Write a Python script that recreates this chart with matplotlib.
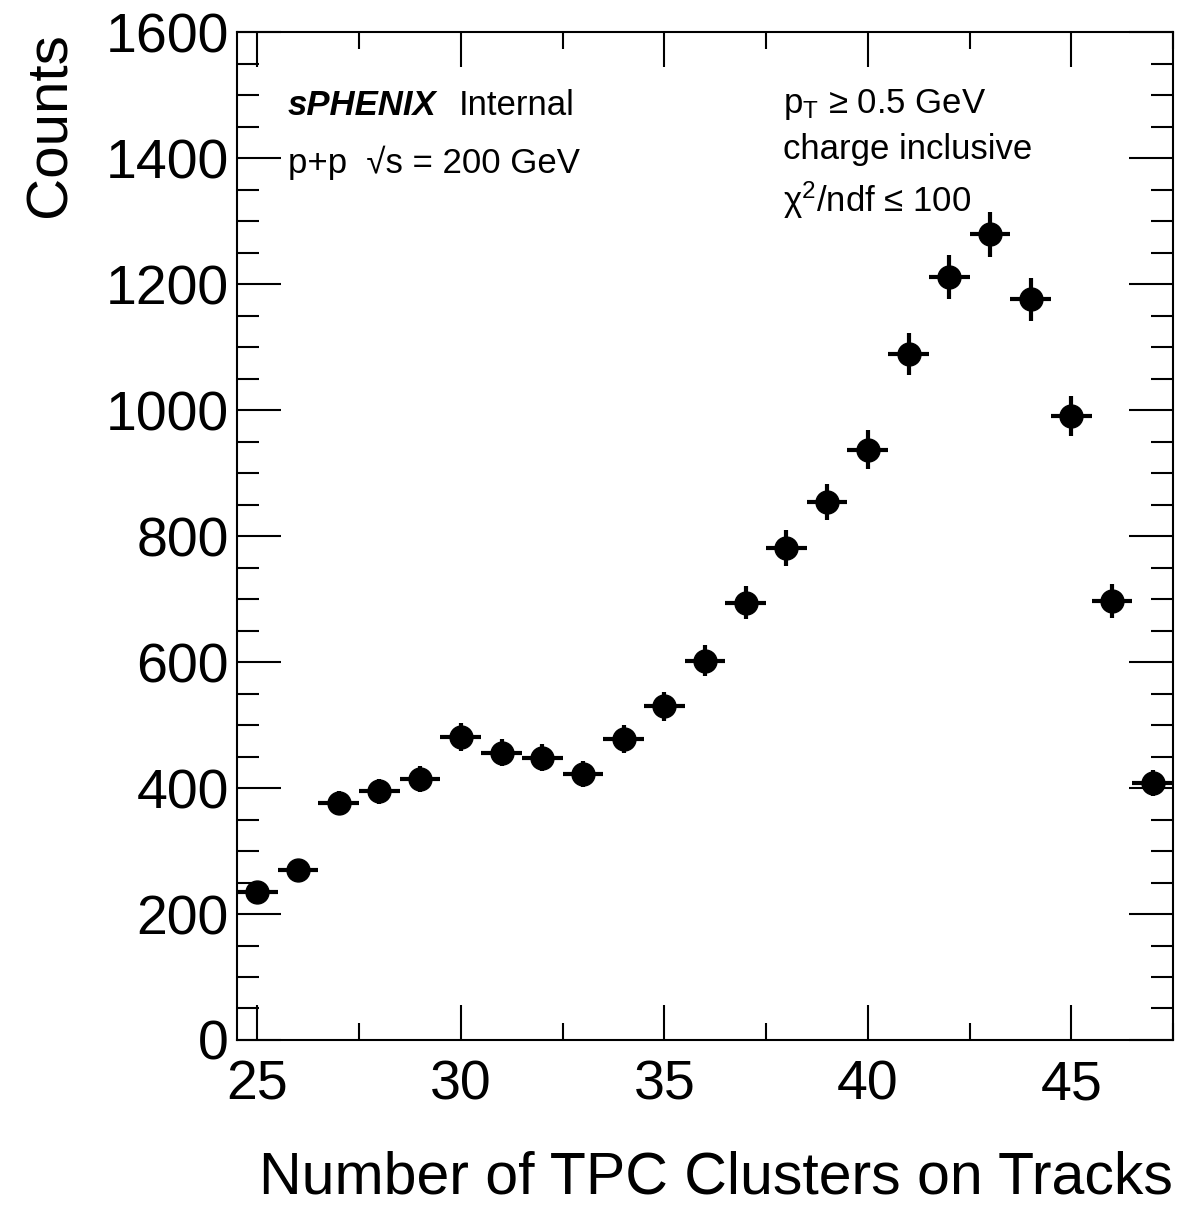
import matplotlib
matplotlib.use('Agg')
import matplotlib.pyplot as plt
from matplotlib.ticker import MultipleLocator

plt.rcParams['font.family'] = ['Liberation Sans', 'DejaVu Sans']
plt.rcParams['mathtext.fontset'] = 'custom'
plt.rcParams['mathtext.rm'] = 'Liberation Sans'
plt.rcParams['mathtext.it'] = 'Liberation Sans:italic'
plt.rcParams['mathtext.bf'] = 'Liberation Sans:bold'

# cluster count per track (bin centres)
nclusters = [25, 26, 27, 28, 29, 30, 31, 32, 33, 34, 35, 36,
             37, 38, 39, 40, 41, 42, 43, 44, 45, 46, 47]
counts = [235, 270, 376, 395, 414, 481, 456, 448, 422, 478, 530, 602,
          694, 781, 854, 937, 1089, 1211, 1279, 1176, 990, 697, 408]
errors = [15.3, 16.4, 19.4, 19.9, 20.3, 21.9, 21.4, 21.2, 20.5, 21.9, 23.0, 24.5,
          26.3, 27.9, 29.2, 30.6, 33.0, 34.8, 35.8, 34.3, 31.5, 26.4, 20.2]
binhalf = [0.5] * len(nclusters)

fig = plt.figure(figsize=(11.79, 12.10), dpi=100)
ax = fig.add_axes([0.201, 0.1405, 0.794, 0.833])

ax.errorbar(nclusters, counts, yerr=errors, xerr=binhalf, fmt='o', color='black',
            ms=16.5, elinewidth=3, capsize=0)

ax.set_xlim(24.5, 47.5)
ax.set_ylim(0, 1600)
ax.xaxis.set_major_locator(MultipleLocator(5))
ax.xaxis.set_minor_locator(MultipleLocator(2.5))
ax.yaxis.set_major_locator(MultipleLocator(200))
ax.yaxis.set_minor_locator(MultipleLocator(50))
ax.tick_params(which='both', direction='in', top=True, right=True, width=1.5)
ax.tick_params(axis='y', which='major', length=32, labelsize=40, pad=6)
ax.tick_params(axis='y', which='minor', length=16)
ax.tick_params(axis='x', which='major', length=25, labelsize=40, pad=14)
ax.tick_params(axis='x', which='minor', length=12)
for s in ax.spines.values():
    s.set_linewidth(1.5)

ax.set_xlabel('Number of TPC Clusters on Tracks', fontsize=42.5, loc='right', labelpad=28)
ax.set_ylabel('Counts', fontsize=42, loc='top', labelpad=20)

ax.text(0.054, 0.927, 'sPHENIX', transform=ax.transAxes, fontsize=25,
        fontweight='bold', fontstyle='italic', va='center')
ax.text(0.237, 0.927, 'Internal', transform=ax.transAxes, fontsize=25, va='center')
ax.text(0.054, 0.870, 'p+p  \u221as = 200 GeV', transform=ax.transAxes,
        fontsize=25, va='center')

ax.text(0.583, 0.928, '$\\mathrm{p_{T}}$ \u2265 0.5 GeV', transform=ax.transAxes,
        fontsize=25, va='center')
ax.text(0.583, 0.883, 'charge inclusive', transform=ax.transAxes, fontsize=25, va='center')
ax.text(0.583, 0.833, '$\\mathrm{\\chi^{2}}$/ndf \u2264 100', transform=ax.transAxes,
        fontsize=25, va='center')

fig.savefig('out.png', dpi=100)
